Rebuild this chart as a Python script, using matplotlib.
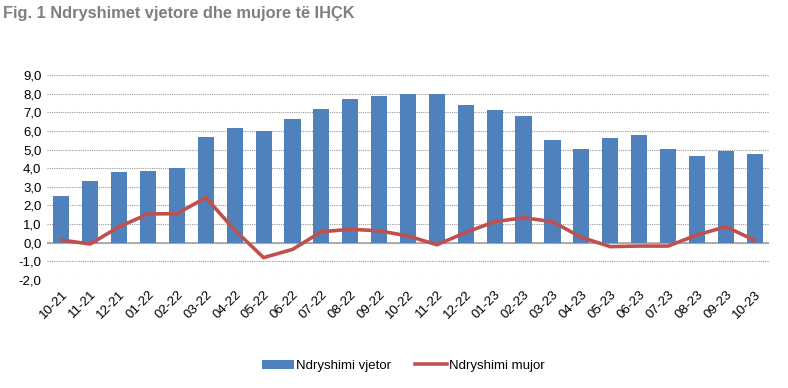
import matplotlib.pyplot as plt
import numpy as np

plt.rcParams['font.family'] = ['Liberation Sans', 'DejaVu Sans']

# data
months = ["10-21", "11-21", "12-21", "01-22", "02-22", "03-22", "04-22", "05-22",
          "06-22", "07-22", "08-22", "09-22", "10-22", "11-22", "12-22", "01-23",
          "02-23", "03-23", "04-23", "05-23", "06-23", "07-23", "08-23", "09-23", "10-23"]
vjetor = [2.50, 3.33, 3.81, 3.85, 4.03, 5.67, 6.14, 5.99, 6.62, 7.19, 7.73, 7.89,
          8.00, 8.00, 7.39, 7.10, 6.82, 5.49, 5.01, 5.62, 5.78, 5.01, 4.67, 4.90, 4.74]
mujor = [0.14, -0.07, 0.86, 1.54, 1.56, 2.42, 0.68, -0.80, -0.36, 0.59, 0.72, 0.64,
         0.36, -0.11, 0.55, 1.13, 1.34, 1.13, 0.29, -0.21, -0.18, -0.18, 0.41, 0.86, 0.13]
yticks = np.arange(-2, 10, 1)

fig = plt.figure(figsize=(7.88, 3.88), dpi=100)
ax = fig.add_axes([0.0596, 0.2784, 0.9164, 0.5283])

x = np.arange(len(months))
bars = ax.bar(x, vjetor, width=0.56, color="#4F81BD", label="Ndryshimi vjetor", zorder=2)
line, = ax.plot(x, mujor, color="#C0504D", lw=2.6, label="Ndryshimi mujor", zorder=3)

ax.set_xlim(-0.5, len(months) - 0.5)
ax.set_ylim(-2, 9)
ax.set_yticks(yticks)
ax.set_yticklabels([f"{v:.1f}".replace(".", ",") for v in yticks], fontsize=9.5)
ax.set_xticks(x)
ax.set_xticklabels(months, rotation=45, ha="right", rotation_mode="anchor", fontsize=9.5)
ax.tick_params(length=0, pad=4)
ax.tick_params(axis="x", pad=6)

for s in ax.spines.values():
    s.set_visible(False)
ax.yaxis.grid(True, linestyle=(0, (1, 1)), color="#9a9a9a", lw=0.8, zorder=0)
ax.axhline(0, color="#a6a6a6", lw=1.2, zorder=1)

fig.text(0.004, 0.965, "Fig. 1 Ndryshimet vjetore dhe mujore të IHÇK", fontsize=11.8,
         fontweight="bold", color="#7f7f7f", va="center")

fig.legend([bars, line], ["Ndryshimi vjetor", "Ndryshimi mujor"],
           loc="center", bbox_to_anchor=(0.512, 0.057), ncol=2, frameon=False,
           fontsize=9.5, handlelength=2.4, handletextpad=0.2, columnspacing=1.8)

fig.savefig("out.png", dpi=100)
